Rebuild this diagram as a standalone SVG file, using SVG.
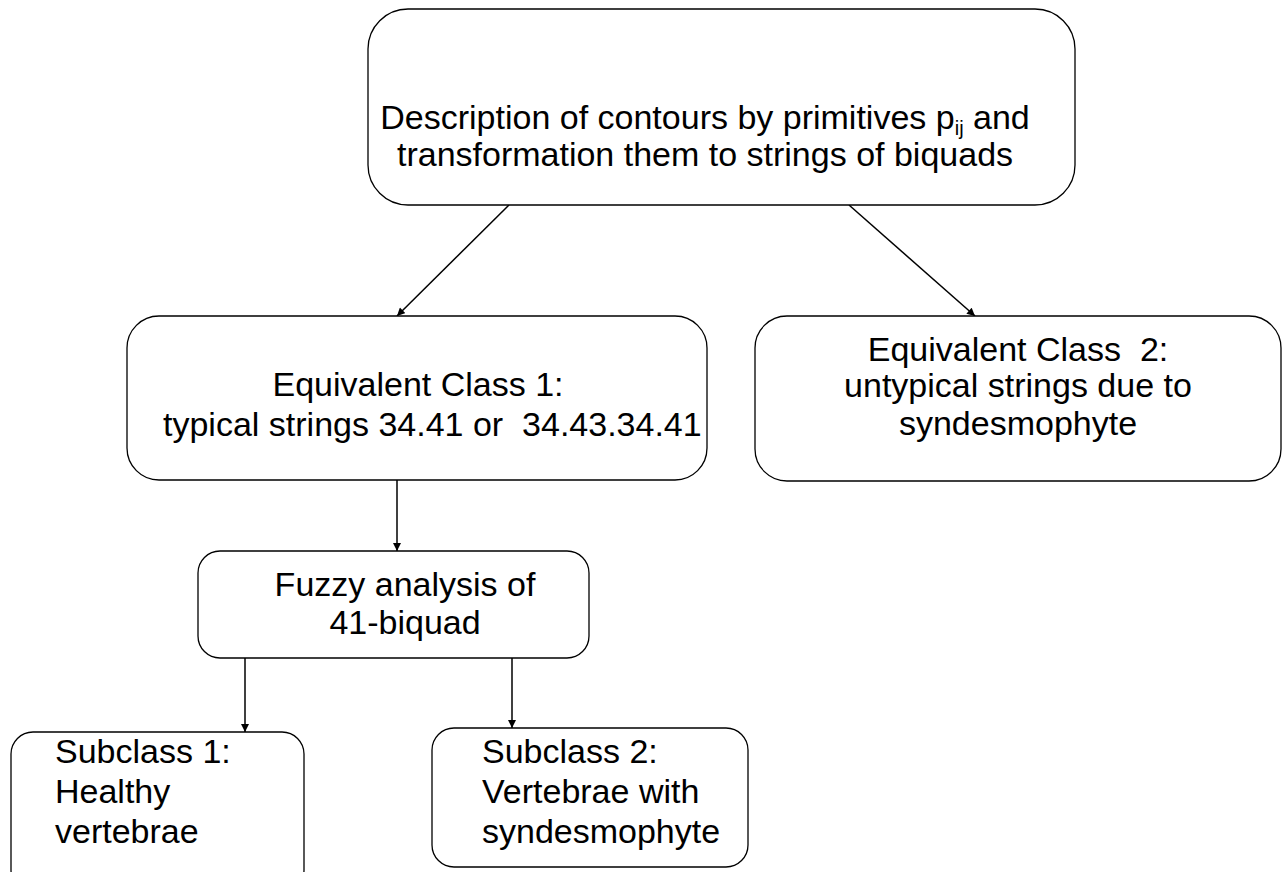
<svg xmlns="http://www.w3.org/2000/svg" width="1288" height="872" viewBox="0 0 1288 872">
<defs>
<style>
.box{fill:#fff;stroke:#000;stroke-width:1.3}
.t{font-family:"Liberation Sans",Arial,sans-serif;font-size:34px;fill:#000}
.c{text-anchor:middle}
.e{stroke:#000;stroke-width:1.5;fill:none;marker-end:url(#ah)}
</style>
<marker id="ah" viewBox="0 0 10 10" refX="10" refY="5" markerWidth="9" markerHeight="8" markerUnits="userSpaceOnUse" orient="auto">
<path d="M0,0 L10,5 L0,10 z" fill="#000"/>
</marker>
</defs>
<rect width="1288" height="872" fill="#fff"/>
<g id="connectors">
<line class="e" x1="509" y1="205" x2="397" y2="316"/>
<line class="e" x1="849" y1="205" x2="975" y2="316"/>
<line class="e" x1="397" y1="480" x2="397" y2="551"/>
<line class="e" x1="245" y1="658" x2="245" y2="732"/>
<line class="e" x1="512" y1="658" x2="512" y2="728"/>
</g>
<g id="top">
<rect class="box" x="368" y="9" width="707" height="196" rx="40"/>
<text class="t c" x="705" y="129">Description of contours by primitives p<tspan font-size="20" dy="6">ij</tspan><tspan dy="-6"> and</tspan></text>
<text class="t c" x="705" y="166">transformation them to strings of biquads</text>
</g>
<g id="ec1">
<rect class="box" x="127" y="316" width="580" height="164" rx="32"/>
<text class="t c" x="418" y="396">Equivalent Class 1:</text>
<text class="t" x="163" y="436" xml:space="preserve">typical strings 34.41 or  34.43.34.41</text>
</g>
<g id="ec2">
<rect class="box" x="755" y="316" width="526" height="165" rx="32"/>
<text class="t c" x="1018" y="361" xml:space="preserve">Equivalent Class  2:</text>
<text class="t c" x="1018" y="397">untypical strings due to</text>
<text class="t c" x="1018" y="435">syndesmophyte</text>
</g>
<g id="fuzzy">
<rect class="box" x="198" y="551" width="391" height="107" rx="22"/>
<text class="t c" x="405" y="596">Fuzzy analysis of</text>
<text class="t c" x="405" y="634">41-biquad</text>
</g>
<g id="sub1">
<rect class="box" x="11" y="732" width="293" height="160" rx="22"/>
<text class="t" x="55" y="763">Subclass 1:</text>
<text class="t" x="55" y="803">Healthy</text>
<text class="t" x="55" y="843">vertebrae</text>
</g>
<g id="sub2">
<rect class="box" x="432" y="728" width="316" height="139" rx="22"/>
<text class="t" x="482" y="763">Subclass 2:</text>
<text class="t" x="482" y="803">Vertebrae with</text>
<text class="t" x="482" y="843">syndesmophyte</text>
</g>
</svg>
